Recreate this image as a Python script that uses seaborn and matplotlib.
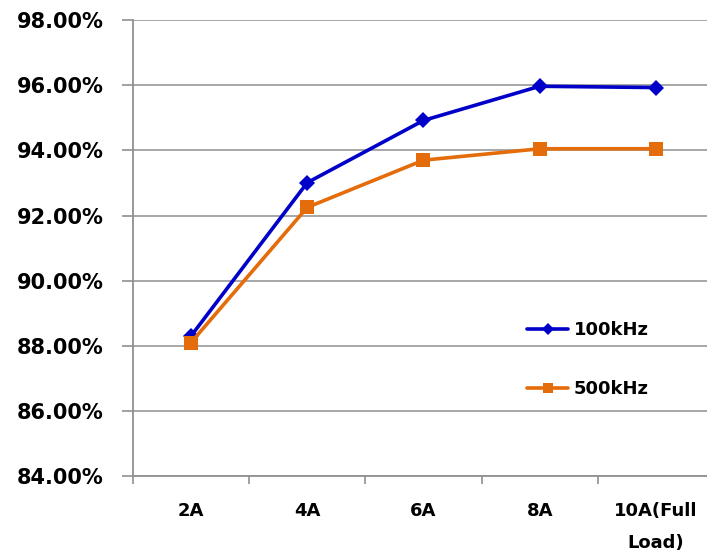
import matplotlib
matplotlib.use("Agg")
import matplotlib.pyplot as plt
import seaborn as sns
import pandas as pd
from matplotlib.ticker import FuncFormatter, FixedLocator

loads = ["2A", "4A", "6A", "8A", "10A(Full\nLoad)"]
eff_100khz = [88.30, 93.01, 94.92, 95.97, 95.93]
eff_500khz = [88.10, 92.25, 93.70, 94.05, 94.05]
series_names = ["100kHz", "500kHz"]

df = pd.concat([
    pd.DataFrame({"pos": range(len(loads)), "eff": eff_100khz, "freq": series_names[0]}),
    pd.DataFrame({"pos": range(len(loads)), "eff": eff_500khz, "freq": series_names[1]}),
])

sns.set_style("white")
plt.rcParams["font.family"] = ["DejaVu Sans"]
plt.rcParams["text.color"] = "black"
plt.rcParams["xtick.labelcolor"] = "black"
plt.rcParams["ytick.labelcolor"] = "black"

fig = plt.figure(figsize=(7.07, 5.6), dpi=100)
ax = fig.add_axes([0.188, 0.15, 0.822, 0.814])

palette = {"100kHz": "#0000C8", "500kHz": "#E46C0A"}
markers = {"100kHz": "D", "500kHz": "s"}
sizes = {"100kHz": 8, "500kHz": 10}

for name in series_names:
    sub = df[df["freq"] == name]
    sns.lineplot(data=sub, x="pos", y="eff", ax=ax, color=palette[name],
                 marker=markers[name], markersize=sizes[name], linewidth=2.6,
                 markeredgewidth=0, label=name)

ax.set_xlim(-0.5, len(loads) - 0.5)
ax.set_ylim(84, 98)
ax.set_yticks([84, 86, 88, 90, 92, 94, 96, 98])
ax.yaxis.set_major_formatter(FuncFormatter(lambda v, p: f"{v:.2f}%"))
ax.set_xticks(range(len(loads)))
ax.set_xticklabels(loads, fontsize=13, fontweight="bold", linespacing=2.0)
ax.xaxis.set_minor_locator(FixedLocator([i - 0.5 for i in range(len(loads) + 1)]))
ax.tick_params(axis="x", which="major", length=0, pad=19)
ax.tick_params(axis="x", which="minor", length=6, width=1.2, color="#909090", direction="out", bottom=True)
ax.tick_params(axis="y", length=8, width=1.2, color="#909090", direction="out", left=True,
               labelsize=15, pad=13)
for lab in ax.get_yticklabels():
    lab.set_fontweight("bold")

ax.grid(axis="y", color="#A0A0A0", linewidth=1.3)
ax.grid(axis="x", visible=False)
for side in ["top", "right"]:
    ax.spines[side].set_visible(False)
for side in ["left", "bottom"]:
    ax.spines[side].set_color("#909090")
    ax.spines[side].set_linewidth(1.3)

ax.set_xlabel("")
ax.set_ylabel("")

leg = ax.legend(loc="upper left", bbox_to_anchor=(0.65, 0.375), frameon=False,
                handlelength=2.3, labelspacing=2.25, handletextpad=0.3, markerscale=0.75,
                prop={"size": 13, "weight": "bold"})

fig.savefig("out.png", dpi=100)
